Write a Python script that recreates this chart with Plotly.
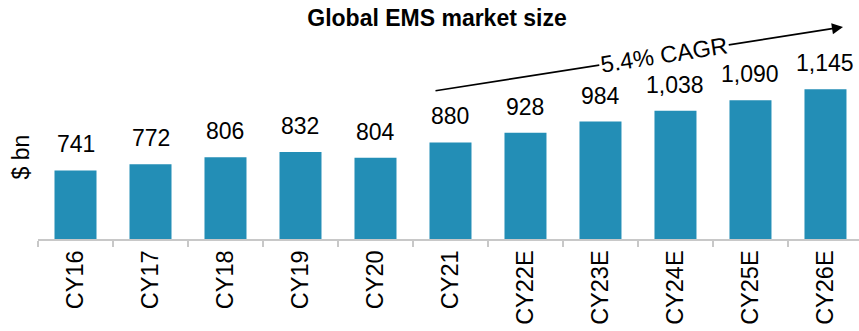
import plotly.graph_objects as go

categories = ["CY16", "CY17", "CY18", "CY19", "CY20", "CY21",
              "CY22E", "CY23E", "CY24E", "CY25E", "CY26E"]
values = [741, 772, 806, 832, 804, 880, 928, 984, 1038, 1090, 1145]
labels = [f"{v:,}" for v in values]

FONT = "Liberation Sans, Arial, sans-serif"
BAR = "#238EB6"

fig = go.Figure()
fig.add_trace(go.Bar(
    x=categories, y=values, width=0.56,
    marker=dict(color=BAR, line=dict(width=0)),
    hoverinfo="skip",
))

annotations = []
for c, v, t in zip(categories, values, labels):
    annotations.append(dict(
        x=c, y=v, xref="x", yref="y", text=t, showarrow=False,
        xanchor="center", yanchor="bottom", yshift=11,
        font=dict(family=FONT, size=23, color="black"),
    ))

# CAGR arrow
annotations.append(dict(
    x=(843 - 38) / 821, y=(239 - 27) / 209, xref="paper", yref="paper",
    ax=-409, ay=64, axref="pixel", ayref="pixel",
    text="", showarrow=True, arrowhead=2, arrowsize=1.3, arrowwidth=1.7,
    arrowcolor="black",
))
annotations.append(dict(
    x=(664 - 38) / 821, y=(239 - 55) / 209, xref="paper", yref="paper",
    xanchor="center", yanchor="middle",
    text="5.4% CAGR", showarrow=False, textangle=-8.9,
    bgcolor="white", borderpad=1,
    font=dict(family=FONT, size=23.5, color="black"),
))
# y-axis title
annotations.append(dict(
    x=(20 - 38) / 821, y=(239 - 157.5) / 209, xref="paper", yref="paper",
    xanchor="center", yanchor="middle",
    text="$ bn", showarrow=False, textangle=-90,
    font=dict(family=FONT, size=23, color="black"),
))

fig.update_layout(
    width=859, height=331,
    margin=dict(l=38, r=0, t=30, b=92),
    paper_bgcolor="white", plot_bgcolor="white",
    showlegend=False,
    title=dict(text="<b>Global EMS market size</b>", x=437 / 859, xanchor="center",
               y=1 - 18 / 331, yanchor="middle", yref="container",
               font=dict(family=FONT, size=23, color="black")),
    annotations=annotations,
    xaxis=dict(
        type="category", range=[-0.5, 10.447],
        showline=True, linecolor="#C8C8C8", linewidth=2,
        ticks="outside", tickson="boundaries", ticklen=6, tickcolor="#C8C8C8", tickwidth=2,
        tickangle=-90, tickfont=dict(family=FONT, size=23.5, color="black"),
        showgrid=False, zeroline=False,
    ),
    yaxis=dict(
        range=[400, 1439], visible=False, showgrid=False, zeroline=False,
    ),
)

fig.write_html("out.html")
